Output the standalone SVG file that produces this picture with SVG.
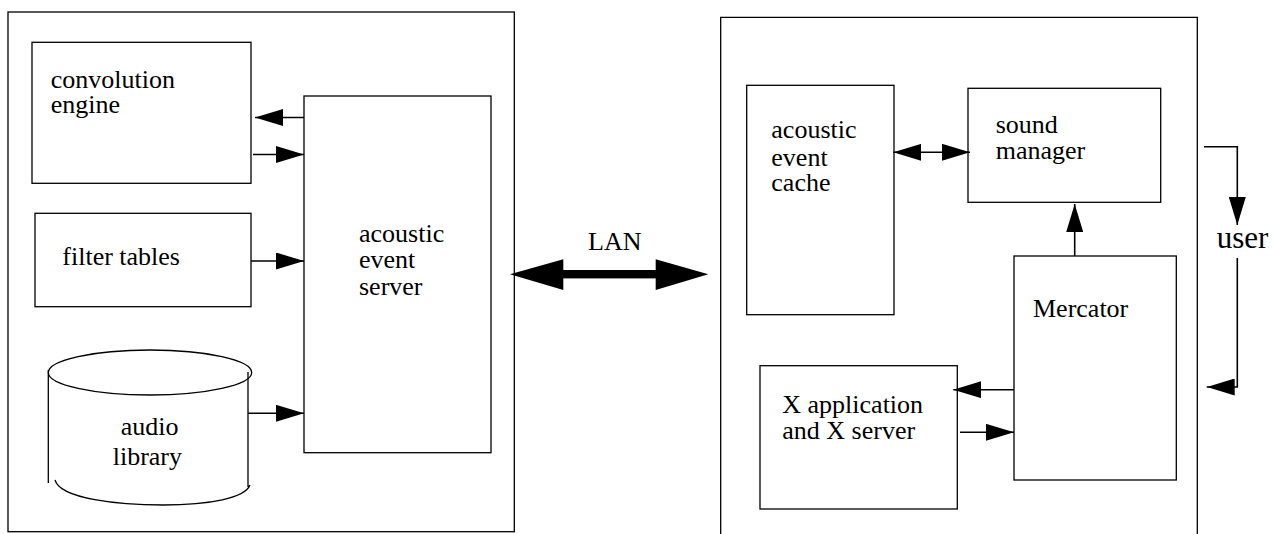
<svg xmlns="http://www.w3.org/2000/svg" width="1274" height="534" viewBox="0 0 1274 534">
  <defs>
    <marker id="ah" markerUnits="userSpaceOnUse" markerWidth="28" markerHeight="17" refX="28" refY="8.5" orient="auto-start-reverse" viewBox="0 0 28 17">
      <path d="M0,0 L28,8.5 L0,17 z" fill="#000"/>
    </marker>
  </defs>
  <rect width="1274" height="534" fill="#fff"/>

  <g fill="none" stroke="#000" stroke-width="1.3">
    <g id="left-host">
      <rect x="8" y="12" width="506.3" height="519.7"/>
    </g>
    <g id="right-host">
      <path d="M720.7,535 V17.3 H1197.3 V535"/>
    </g>
    <g id="convolution-engine-box"><rect x="32" y="42.3" width="219" height="141"/></g>
    <g id="filter-tables-box"><rect x="35" y="213.3" width="216" height="93.4"/></g>
    <g id="audio-library-shape">
      <ellipse cx="150" cy="372.5" rx="101.7" ry="22.5"/>
      <path d="M48.3,370 V483 M248,372 V487 M55,480 C60,499 120,505 163,505 C210,505 245,498 250,485"/>
    </g>
    <g id="acoustic-event-server-box"><rect x="304" y="96" width="187" height="356.7"/></g>
    <g id="acoustic-event-cache-box"><rect x="746.7" y="85.3" width="147.3" height="229.4"/></g>
    <g id="sound-manager-box"><rect x="968" y="88.3" width="192.7" height="114"/></g>
    <g id="mercator-box"><rect x="1014" y="256" width="162.3" height="224"/></g>
    <g id="x-application-box"><rect x="760" y="365.7" width="197.3" height="143.3"/></g>
  </g>

  <g font-family="Liberation Serif, serif" fill="#000">
    <g id="convolution-engine">
      <text x="50.7" y="88" font-size="26">convolution</text>
      <text x="50.7" y="113" font-size="26">engine</text>
    </g>
    <g id="filter-tables">
      <text x="62.3" y="265" font-size="26">filter tables</text>
    </g>
    <g id="audio-library">
      <text x="120.7" y="435" font-size="26">audio</text>
      <text x="112.7" y="465" font-size="26">library</text>
    </g>
    <g id="acoustic-event-server">
      <text x="359" y="242" font-size="26">acoustic</text>
      <text x="359" y="268" font-size="26">event</text>
      <text x="359" y="295" font-size="26">server</text>
    </g>
    <g id="acoustic-event-cache">
      <text x="771.3" y="137.7" font-size="26">acoustic</text>
      <text x="771.3" y="165.7" font-size="26">event</text>
      <text x="771.3" y="190.7" font-size="26">cache</text>
    </g>
    <g id="sound-manager">
      <text x="995.7" y="133.3" font-size="26">sound</text>
      <text x="995.7" y="159.3" font-size="26">manager</text>
    </g>
    <g id="mercator">
      <text x="1033" y="317.3" font-size="26">Mercator</text>
    </g>
    <g id="x-application">
      <text x="782.3" y="413.3" font-size="26">X application</text>
      <text x="782.3" y="439" font-size="26">and X server</text>
    </g>
    <g id="user">
      <text x="1216.7" y="247.5" font-size="31">user</text>
    </g>
    <g id="lan-label">
      <text x="588" y="250" font-size="26">LAN</text>
    </g>
  </g>

  <g id="connectors" fill="none" stroke="#000" stroke-width="1.6" marker-end="url(#ah)">
    <line x1="304" y1="117.5" x2="255" y2="117.5"/>
    <line x1="253" y1="154.5" x2="304" y2="154.5"/>
    <line x1="251" y1="261" x2="304" y2="261"/>
    <line x1="248" y1="413.3" x2="304" y2="413.3"/>
    <line x1="893.3" y1="152.3" x2="970" y2="152.3" marker-start="url(#ah)"/>
    <line x1="1074.7" y1="256" x2="1074.7" y2="204"/>
    <line x1="1014" y1="389.7" x2="953.3" y2="389.7"/>
    <line x1="960" y1="432.3" x2="1014" y2="432.3"/>
    <polyline points="1204,146.7 1237.3,146.7 1237.3,225"/>
    <polyline points="1237.3,258 1237.3,387 1206.7,387"/>
    <g id="lan" stroke="none" fill="#000" marker-end="none">
      <rect x="562" y="270" width="95" height="8.4"/>
      <polygon points="510,274.3 563.3,259.3 563.3,290"/>
      <polygon points="708.3,274.3 655.7,259.3 655.7,290"/>
    </g>
  </g>
</svg>
